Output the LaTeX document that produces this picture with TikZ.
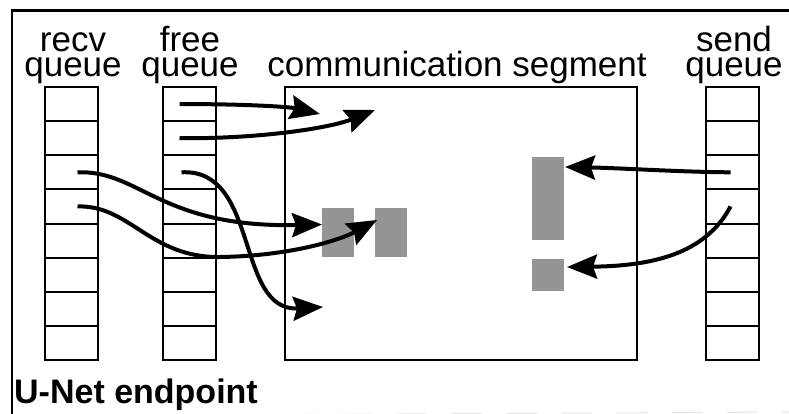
\documentclass[tikz,border=0pt]{standalone}
\usepackage{fontspec}
\setmainfont{Liberation Sans}
\usetikzlibrary{arrows.meta,calc}
\begin{document}
\begin{tikzpicture}[x=1pt,y=-1pt,
  cell/.style={draw,line width=2pt,minimum width=53pt,minimum height=34.125pt,inner sep=0pt,outer sep=0pt,anchor=north west},
  seg/.style={draw,line width=2pt,inner sep=0pt,outer sep=0pt,anchor=north west,minimum width=352pt,minimum height=273pt},
  shade/.style={fill=black!42,inner sep=0pt,outer sep=0pt,anchor=north west,minimum width=32pt},
  lbl/.style={font=\fontsize{35}{25}\selectfont,align=center,anchor=base,inner sep=0pt},
  title/.style={font=\fontsize{34}{34}\selectfont\bfseries,anchor=base west,inner sep=0pt},
  arr/.style={line width=4pt,-{Stealth[length=30pt,width=24pt,inset=4pt]}},
  frame/.style={line width=2.6pt}]
\useasboundingbox (0,0) rectangle (789,414);
% frame
\coordinate (ftl) at (12,10.5);
\coordinate (ftr) at (789,10.5);
\coordinate (fbl) at (12,414);
\coordinate (fbr) at (789,412);
\draw[frame] (ftr) -- (ftl) -- (fbl);
\draw[gray!22,line width=1pt,dash pattern=on 30pt off 25pt] ([yshift=-2pt]fbl) -- (fbr);
% queues
\foreach \i in {1,...,8}{
  \node[cell] (r\i) at (45,{87+34.125*(\i-1)}) {};
  \node[cell] (f\i) at (163,{87+34.125*(\i-1)}) {};
  \node[cell] (s\i) at (706,{87+34.125*(\i-1)}) {};
}
% communication segment
\node[seg] (cs) at (285,87) {};
% shaded buffers
\node[shade,minimum height=49pt] (g1) at (322,208) {};
\node[shade,minimum height=49pt] (g2) at (375,208) {};
\node[shade,minimum height=83pt] (g3) at (532,157) {};
\node[shade,minimum height=32pt] (g4) at (532,259) {};
% labels
\node[lbl] (l1) at (73,77) {recv\\queue};
\node[lbl] (l3) at (190,77) {free\\queue};
\node[lbl] (l5) at (457,77) {communication segment};
\node[lbl] (l6) at (734,77) {send\\queue};
\node[title] (t) at (14,403) {U-Net endpoint};
% endpoints
\coordinate (a1) at ($(f1.center)+(-10,0)$);
\coordinate (a2) at ($(f2.center)+(-10,0)$);
\coordinate (a3) at ($(f3.center)+(-8,0)$);
\coordinate (a4) at ($(r3.center)+(6,0)$);
\coordinate (a5) at ($(r4.center)+(6,0)$);
\coordinate (a6) at ($(s3.center)+(-2,0)$);
\coordinate (a7) at ($(s4.center)+(-2,0)$);
\coordinate (e1) at (320,114);
\coordinate (e2) at (375,110);
\coordinate (e3) at (323,307);
\coordinate (e4) at ($(g1.west)+(0,-8)$);
\coordinate (e5) at ($(g2.north west)+(2,12)$);
\coordinate (e6) at ($(g3.north east)+(1,10)$);
\coordinate (e7) at ($(g4.east)+(3,-8)$);
% arrows
\draw[arr] (a1) .. controls (250,104) and (290,107) .. (e1);
\draw[arr] (a2) .. controls (260,139) and (330,128) .. (e2);
\draw[arr] (a3) .. controls (260,168) and (235,312) .. (e3);
\draw[arr] (a4) .. controls (140,170) and (160,228) .. (e4);
\draw[arr] (a5) .. controls (130,205) and (150,258) .. (220,257) .. controls (290,256) and (340,240) .. (e5);
\draw[arr] (a6) .. controls (680,172) and (620,168) .. (e6);
\draw[arr] (a7) .. controls (705,255) and (650,266) .. (e7);
\end{tikzpicture}
\end{document}
